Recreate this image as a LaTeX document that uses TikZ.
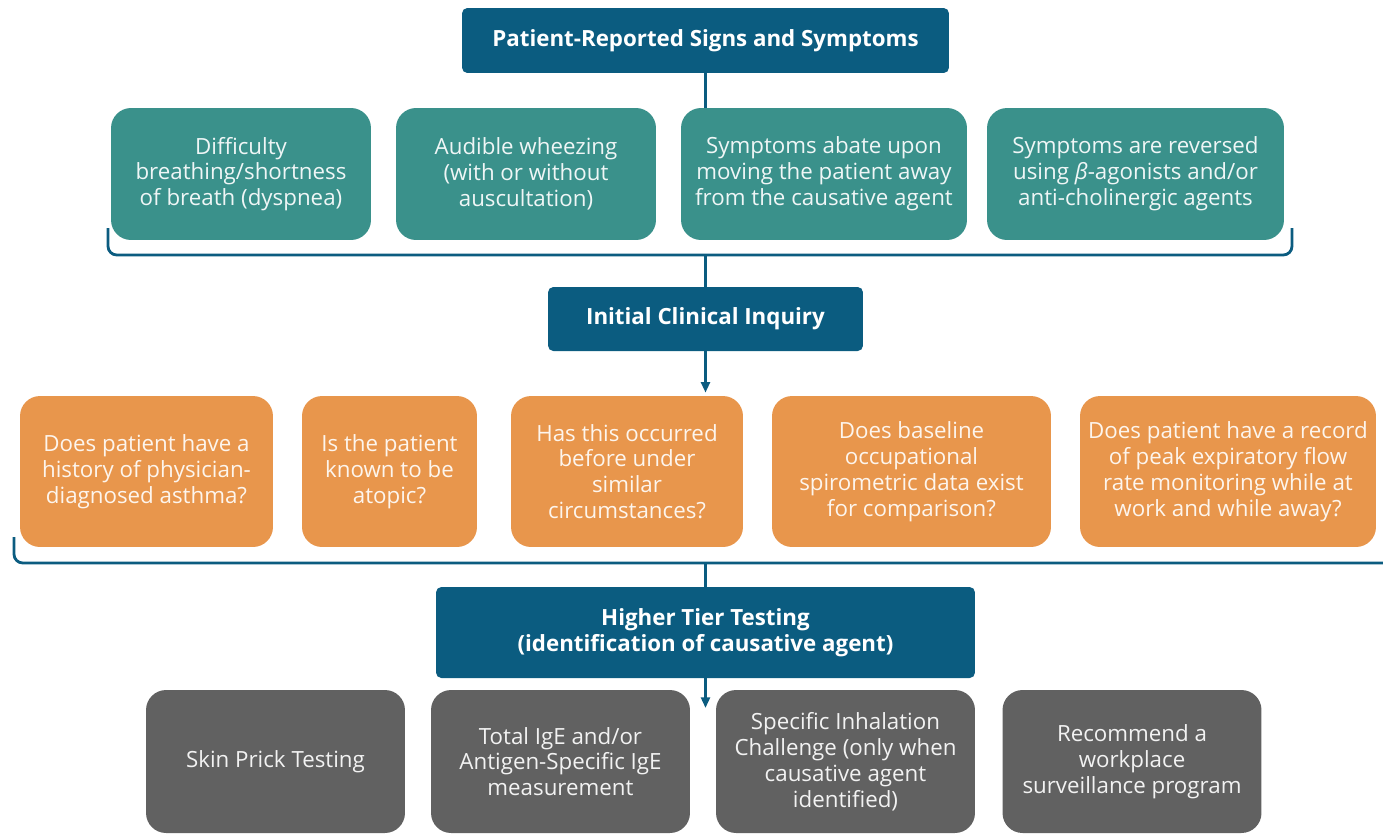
\documentclass[tikz,border=0pt]{standalone}
\usepackage{fontspec}
\setmainfont{Open Sans}
\usetikzlibrary{positioning,arrows.meta,calc}
\definecolor{headblue}{HTML}{0B5C80}
\definecolor{symteal}{HTML}{3A918B}
\definecolor{askorange}{HTML}{E8964C}
\definecolor{testgray}{HTML}{616161}
\begin{document}
\begin{tikzpicture}[x=0.02cm,y=-0.02cm,
  every node/.style={align=center,inner sep=2pt,font=\fontsize{12.7}{14.7}\selectfont},
  boxsize/.style 2 args={minimum width=#1,minimum height=#2},
  head/.style={fill=headblue,text=white,rounded corners=3pt,font=\fontsize{12.7}{14.7}\selectfont\bfseries},
  sym/.style={fill=symteal,text=white!92!symteal,rounded corners=0.4cm,boxsize={5.2cm}{2.64cm}},
  ask/.style={fill=askorange,text=white!90!askorange,rounded corners=0.4cm,boxsize={5cm}{3.02cm}},
  test/.style={fill=testgray,text=white!92!testgray,rounded corners=0.4cm,boxsize={5.18cm}{2.86cm}},
  brace/.style={draw=headblue,line width=1.6pt,rounded corners=5pt},
  link/.style={draw=headblue,line width=1.6pt},
  arr/.style={link,-{Triangle[length=6pt,width=5pt]}}]
\useasboundingbox (0,0) rectangle (1383,836);

% headers
\node[head,boxsize={9.74cm}{1.3cm}] (signs) at (705.5,40.5) {Patient-Reported Signs and Symptoms};
\node[head,boxsize={6.3cm}{1.28cm}] (inquiry) at (705.5,319) {Initial Clinical Inquiry};
\node[head,boxsize={10.78cm}{1.82cm}] (tier) at (705.5,632.5) {Higher Tier Testing\\(identification of causative agent)};

% signs and symptoms
\node[sym] (s1) at (241,174) {Difficulty\\breathing/shortness\\of breath (dyspnea)};
\node[sym] (s2) at (526,174) {Audible wheezing\\(with or without\\auscultation)};
\node[sym,minimum width=5.72cm] (s3) at (824,174) {Symptoms abate upon\\moving the patient away\\from the causative agent};
\node[sym,minimum width=5.94cm] (s4) at (1135.5,174) {Symptoms are reversed\\using \textit{β}-agonists and/or\\anti-cholinergic agents};

% clinical questions
\node[ask,minimum width=5.06cm] (q1) at (146.5,471.5) {Does patient have a\\history of physician-\\diagnosed asthma?};
\node[ask,minimum width=3.5cm] (q2) at (389.5,471.5) {Is the patient\\known to be\\atopic?};
\node[ask,minimum width=4.64cm] (q3) at (627,471.5) {Has this occurred\\before under\\similar\\circumstances?};
\node[ask,minimum width=5.58cm] (q4) at (911.5,471.5) {Does baseline\\occupational\\spirometric data exist\\for comparison?};
\node[ask,minimum width=5.92cm] (q5) at (1228,471.5) {Does patient have a record\\of peak expiratory flow\\rate monitoring while at\\work and while away?};

% tests
\node[test] (t1) at (275.5,761.5) {Skin Prick Testing};
\node[test] (t2) at (560.5,761.5) {Total IgE and/or\\Antigen-Specific IgE\\measurement};
\node[test] (t3) at (845.5,761.5) {Specific Inhalation\\Challenge (only when\\causative agent\\identified)};
\node[test] (t4) at (1132,761.5) {Recommend a\\workplace\\surveillance program};

% connectors
\draw[link] (signs.south) -- (signs.south |- s3.north);
\draw[brace] (108,228) -- (108,255) -- (1292,255) -- (1292,228);
\coordinate (b1) at (inquiry.north |- 0,255);
\draw[link] (b1) -- (inquiry.north);
\draw[arr] (inquiry.south) -- ($(inquiry.south |- q3.north)+(0,-3)$);
\draw[brace] (14,537) -- (14,563) -- (1400,563);
\coordinate (b2) at (tier.north |- 0,563);
\draw[link] (b2) -- (tier.north);
\draw[arr] (tier.south) -- (tier.south |- 0,708);
\end{tikzpicture}
\end{document}
